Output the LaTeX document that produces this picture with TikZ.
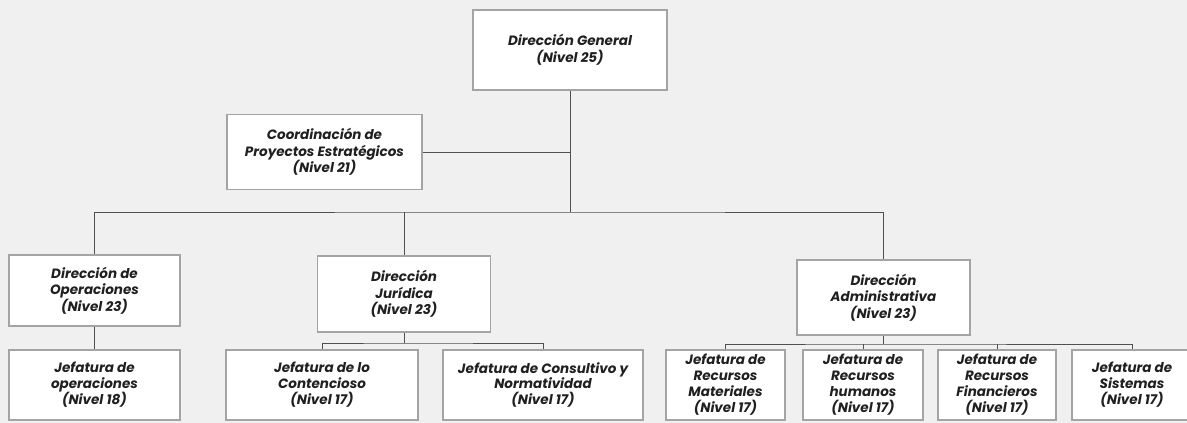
\documentclass[tikz,border=0pt]{standalone}
\usepackage{fontspec}
\setmainfont{Poppins}
\usepackage{tikz}

\definecolor{fondo}{HTML}{F0F0F0}
\definecolor{borde}{HTML}{A4A4A4}
\definecolor{linea}{HTML}{505050}
\definecolor{texto}{HTML}{202020}

\tikzset{
  unidad/.style={draw=borde, line width=1.4pt, fill=white, align=center, inner sep=2pt,
    text=texto, font=\bfseries\itshape\fontsize{13.5}{16.5}\selectfont},
  jefatura/.style={unidad, minimum height=70pt, font=\bfseries\itshape\fontsize{13.5}{16}\selectfont},
  enlace/.style={draw=linea, line width=0.8pt}
}

\begin{document}
\begin{tikzpicture}[x=1pt, y=-1pt]
    \useasboundingbox (0,0) rectangle (1187,423);
    \fill[fondo] (0,0) rectangle (1187,423);

    \node[unidad, minimum width=194pt, minimum height=80pt] (dg) at (570,50)
      {Dirección General\\(Nivel 25)};
    \node[unidad, minimum width=195pt, minimum height=75pt] (cpe) at (324.5,152)
      {Coordinación de\\Proyectos Estratégicos\\(Nivel 21)};

    \node[unidad, minimum width=171pt, minimum height=71pt] (dop) at (94.5,290.5)
      {Dirección de\\Operaciones\\(Nivel 23)};
    \node[unidad, minimum width=173pt, minimum height=76pt] (dju) at (404,294)
      {Dirección\\Jurídica\\(Nivel 23)};
    \node[unidad, minimum width=173pt, minimum height=75pt] (dad) at (883.5,297.5)
      {Dirección\\Administrativa\\(Nivel 23)};

    \node[jefatura, minimum width=171pt] (jop) at (94.5,385)
      {Jefatura de\\operaciones\\(Nivel 18)};
    \node[jefatura, minimum width=192pt] (jco) at (322,385)
      {Jefatura de lo\\Contencioso\\(Nivel 17)};
    \node[jefatura, minimum width=200pt] (jcn) at (543,385)
      {Jefatura de Consultivo y\\Normatividad\\(Nivel 17)};
    \node[jefatura, minimum width=119pt] (jrm) at (725.5,385)
      {Jefatura de\\Recursos\\Materiales\\(Nivel 17)};
    \node[jefatura, minimum width=120pt] (jrh) at (863,385)
      {Jefatura de\\Recursos\\humanos\\(Nivel 17)};
    \node[jefatura, minimum width=118pt] (jrf) at (997,385)
      {Jefatura de\\Recursos\\Financieros\\(Nivel 17)};
    \node[jefatura, minimum width=120pt] (jsi) at (1132,385)
      {Jefatura de\\Sistemas\\(Nivel 17)};

    \coordinate (b1) at (570,212);
    \coordinate (b2) at (404,343);
    \coordinate (b3) at (883.5,344);

    \draw[enlace] (dg) -- (b1);
    \draw[enlace] (cpe.east) -- (cpe.east -| dg.south);
    \draw[enlace] (dop.north) |- (b1) -| (dad.north);
    \draw[enlace] (dju.north) -- (dju.north |- b1);
    \draw[enlace] (dop.south) -- (jop.north);
    \draw[enlace] (dju.south) -- (b2);
    \draw[enlace] (jco.north) |- (b2) -| (jcn.north);
    \draw[enlace] (dad.south) -- (b3);
    \draw[enlace] (jrm.north) |- (b3) -| (jsi.north);
    \draw[enlace] (jrh.north) -- (jrh.north |- b3);
    \draw[enlace] (jrf.north) -- (jrf.north |- b3);
  \end{tikzpicture}
\end{document}
